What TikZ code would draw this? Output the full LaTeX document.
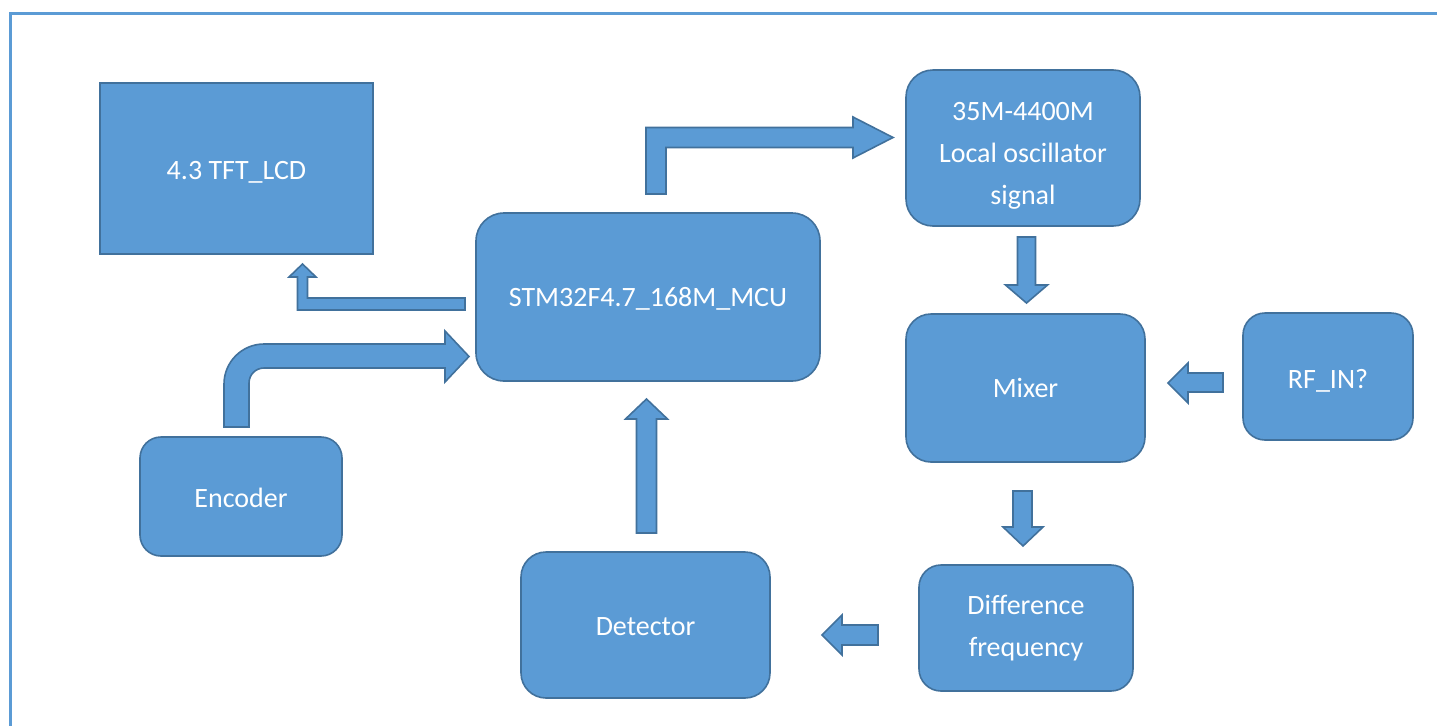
\documentclass[tikz,border=0pt]{standalone}
\usepackage{fontspec}
\setmainfont{Carlito}
\definecolor{boxfill}{HTML}{5B9BD5}
\definecolor{boxline}{HTML}{41719C}
\definecolor{framecol}{HTML}{5B9BD5}
\newcommand{\lift}[1]{\rule{0pt}{#1}}
\tikzset{
  block/.style={draw=boxline, fill=boxfill, line width=1.6pt, text=white,
    inner sep=0pt, align=center, font=\fontsize{28}{42}\selectfont},
  barrow/.style={draw=boxline, fill=boxfill, line width=1.6pt, line join=miter},
}
\begin{document}
\begin{tikzpicture}[x=1pt,y=-1pt]
\useasboundingbox (0,0) rectangle (1437,726);
\fill[white] (0,0) rectangle (1437,726);
% outer frame
\draw[framecol, line width=3pt] (1437,13.5) -- (10.3,13.5) -- (10.3,726);

% blocks
\node[block, minimum width=273pt, minimum height=171pt] (lcd) at (236.5,168.5) {\lift{26pt}4.3 TFT\_LCD};
\node[block, rounded corners=28pt, minimum width=344pt, minimum height=168pt] (mcu) at (648,297) {\lift{22pt}STM32F4.7\_168M\_MCU};
\node[block, rounded corners=27pt, minimum width=234pt, minimum height=156pt] (osc) at (1023,148) {\lift{34pt}35M-4400M\\Local oscillator\\signal};
\node[block, rounded corners=25pt, minimum width=239pt, minimum height=148pt] (mix) at (1025.5,388) {Mixer};
\node[block, rounded corners=22pt, minimum width=170pt, minimum height=127pt] (rf) at (1328,376.5) {\lift{28pt}RF\_IN?};
\node[block, rounded corners=21pt, minimum width=202pt, minimum height=119pt] (enc) at (241,496.5) {\lift{22pt}Encoder};
\node[block, rounded corners=25pt, minimum width=249pt, minimum height=146pt] (det) at (645.5,625) {\lift{22pt}Detector};
\node[block, rounded corners=22pt, minimum width=214pt, minimum height=126pt] (dif) at (1026,628) {Difference\\frequency};

% block arrows
% MCU -> oscillator (bent)
\draw[barrow] (646,194) -- (646,127.5) -- (853,127.5) -- (853,117) -- (893,137.5)
  -- (853,158) -- (853,147.5) -- (666,147.5) -- (666,194) -- cycle;
% MCU -> LCD (bent up)
\draw[barrow] (465,298) -- (465,310) -- (297.5,310) -- (297.5,277) -- (289,277)
  -- (302.5,264) -- (316,277) -- (307.5,277) -- (307.5,298) -- cycle;
% Encoder -> MCU (curved)
\draw[barrow] (224,427) -- (224,384) .. controls (224,362) and (242,344) .. (264,344)
  -- (445,344) -- (445,331) -- (469,356.5) -- (445,382) -- (445,368) -- (264,368)
  .. controls (255.7,368) and (249,374.7) .. (249,383) -- (249,427) -- cycle;
% oscillator -> mixer
\draw[barrow] (1017.5,237) -- (1035.5,237) -- (1035.5,285) -- (1047.5,285)
  -- (1026.5,303) -- (1005.5,285) -- (1017.5,285) -- cycle;
% RF_IN -> mixer
\draw[barrow] (1223,373) -- (1223,392) -- (1188,392) -- (1188,403)
  -- (1168,383) -- (1188,363) -- (1188,373) -- cycle;
% mixer -> difference frequency
\draw[barrow] (1013,491) -- (1032,491) -- (1032,527) -- (1043,527)
  -- (1023,546) -- (1003,527) -- (1013,527) -- cycle;
% difference frequency -> detector
\draw[barrow] (878,625) -- (878,645) -- (842,645) -- (842,655)
  -- (822,635) -- (842,615) -- (842,625) -- cycle;
% detector -> MCU
\draw[barrow] (636.5,533) -- (656.5,533) -- (656.5,419) -- (667.5,419)
  -- (646.5,399) -- (625.5,419) -- (636.5,419) -- cycle;
\end{tikzpicture}
\end{document}
